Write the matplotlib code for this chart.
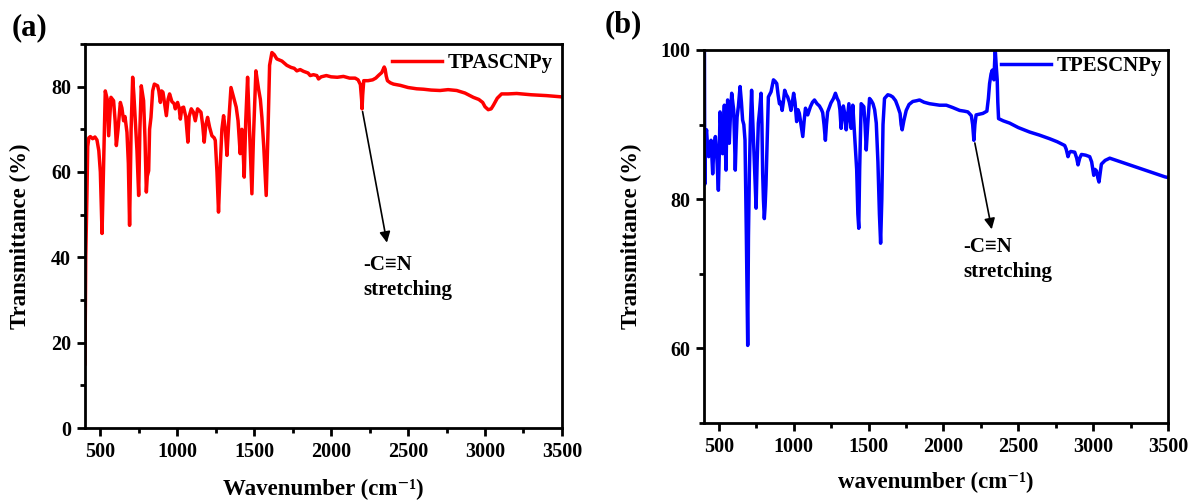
import matplotlib
matplotlib.use("Agg")
import matplotlib.pyplot as plt
from matplotlib.ticker import MultipleLocator

# ------------------------------------------------------------
# FTIR spectra
# ------------------------------------------------------------
wn_a = [400, 405, 413, 418, 425, 435, 450, 465, 478, 490, 500, 511, 520, 532, 545, 554, 569, 586, 596, 604,
        615, 630, 640, 651, 660, 673, 682, 690, 700, 710, 718, 727, 738, 749, 757, 766, 781, 790, 799, 805,
        814, 820, 829, 840, 851, 872, 880, 890, 898, 907, 918, 929, 940, 950, 965, 980, 987, 1002, 1012, 1020,
        1030, 1041, 1055, 1062, 1069, 1077, 1091, 1105, 1117, 1132, 1154, 1165, 1175, 1185, 1197, 1210, 1225,
        1240, 1247, 1258, 1268, 1280, 1290, 1301, 1312, 1323, 1335, 1349, 1366, 1383, 1395, 1409, 1420, 1428,
        1435, 1445, 1457, 1468, 1478, 1485, 1495, 1511, 1528, 1540, 1550, 1562, 1578, 1590, 1600, 1615, 1630,
        1647, 1680, 1712, 1740, 1760, 1777, 1799, 1820, 1850, 1864, 1885, 1907, 1918, 1935, 1969, 2000, 2040,
        2080, 2120, 2156, 2175, 2190, 2198, 2201, 2205, 2212, 2240, 2270, 2290, 2310, 2329, 2345, 2351, 2358,
        2366, 2385, 2405, 2450, 2500, 2556, 2600, 2650, 2708, 2760, 2816, 2870, 2924, 2960, 2985, 3000, 3021,
        3040, 3054, 3080, 3108, 3150, 3206, 3300, 3400, 3500]
T_a = [15, 40, 55, 66, 68, 68.3, 67.8, 68.2, 67.5, 65, 60, 45.6, 60, 79, 77, 68.5, 77.5, 76.7, 72, 66.2,
       70, 76.3, 75, 72, 73, 69.3, 62, 47.5, 70, 82.2, 78, 72, 65, 54.5, 70, 80.2, 76.7, 68, 55.3, 59,
       60.3, 70, 72.8, 79, 80.6, 80.2, 79, 76.3, 79, 78.7, 76, 73.2, 77, 78.3, 76.5, 76, 74.8, 76.3, 75, 72.4,
       75, 75.2, 73, 70, 67, 73, 74.8, 74, 72, 74.8, 74, 71, 67, 71, 72.8, 70.5, 68.5,
       68, 67.4, 60, 50.6, 62, 70, 73.2, 70, 63.9, 72, 79.8, 77.5, 75.2, 72, 64.3, 70, 65,
       58.8, 72, 82.2, 71.3, 62, 54.9, 68, 83.7, 79.5, 77, 72.8, 66, 54.5, 70, 85, 88, 87.5,
       86.5, 86, 85, 84.5, 84.3, 83.7, 84, 83.6, 83.2, 82.6, 82.8, 82.6, 81.8, 82.3, 82.6, 82.3, 82.2,
       82.4, 82.0, 82.0, 81.6, 80.5, 77, 74.8, 78, 81.4, 81.4, 81.6, 82, 82.7, 83.3, 84.6, 84.1, 82.5,
       81.4, 80.9, 80.6, 80.3, 79.8, 79.5, 79.4, 79.2, 79.1, 79.3, 79.1, 78.5, 77.5, 77, 76.3, 75.3, 74.6,
       74.8, 75.6, 77.3, 78.3, 78.3, 78.4, 78.1, 77.9, 77.6]

wn_b = [400, 403, 405, 410, 417, 424, 431, 440, 447, 452, 458, 466, 476, 485, 496, 502, 507, 515, 524, 530,
        536, 541, 547, 552, 558, 563, 569, 576, 585, 592, 598, 604, 609, 615, 621, 630, 641, 650, 658, 666,
        674, 683, 692, 697, 703, 710, 718, 725, 731, 740, 748, 755, 763, 772, 781, 787, 792, 797, 803, 808,
        814, 822, 830, 848, 864, 875, 886, 895, 904, 913, 922, 930, 939, 950, 959, 970, 981, 990, 999, 1008,
        1019, 1028, 1037, 1048, 1060, 1069, 1078, 1093, 1111, 1125, 1138, 1155, 1171, 1185, 1193, 1202, 1211,
        1218, 1226, 1248, 1265, 1278, 1290, 1300, 1308, 1316, 1323, 1331, 1340, 1350, 1359, 1368, 1376, 1383,
        1389, 1394, 1402, 1410, 1420, 1428, 1434, 1440, 1450, 1468, 1476, 1484, 1494, 1506, 1518, 1529, 1540,
        1551, 1562, 1572, 1580, 1588, 1596, 1606, 1628, 1645, 1661, 1680, 1695, 1710, 1717, 1724, 1735, 1751,
        1770, 1795, 1820, 1840, 1870, 1907, 1940, 1974, 2019, 2060, 2108, 2140, 2163, 2186, 2195, 2203, 2210,
        2218, 2240, 2263, 2290, 2300, 2308, 2318, 2326, 2332, 2337, 2342, 2346, 2352, 2359, 2363, 2368, 2400,
        2442, 2500, 2576, 2640, 2710, 2760, 2810, 2820, 2832, 2840, 2850, 2877, 2890, 2899, 2910, 2922, 2950,
        2977, 2990, 3004, 3012, 3022, 3032, 3039, 3047, 3055, 3080, 3111, 3170, 3245, 3360, 3479, 3500]
T_b = [100, 100, 82, 88, 89.3, 87, 85.7, 87, 87.9, 86, 83.4, 87, 88.4, 86, 81.2, 86, 91.7, 89, 86.1, 90,
       92.6, 88, 83.9, 90, 93.3, 91, 87.5, 91, 94.2, 93, 92, 88, 83.9, 88, 91, 92.5, 95.1, 93, 90.6, 90,
       87.9, 75, 60.4, 75, 83.4, 90, 94.6, 91, 87.9, 83, 78.8, 85, 90.2, 92, 94.2, 90, 83.4, 80, 77.4, 79,
       81.9, 88, 93.7, 94.4, 96, 95.8, 95.5, 94, 92.8, 93, 91.9, 93, 94.6, 94, 93.7, 93, 91.9, 93, 94.2, 93,
       90.4, 92, 91.5, 90, 88.4, 90.5, 92.2, 91.3, 92.4, 93, 93.3, 92.8, 92.5, 92, 91.6, 90, 87.9,
       90, 91.7, 92.9, 93.5, 94.2, 93.5, 93.1, 92, 89.5, 91, 92.5, 91.5, 89.3, 91, 92.8, 91, 89.5,
       91, 92.6, 90, 87.5, 84, 78, 76.1, 84, 92.8, 92.4, 90, 86.6, 90, 93.5, 93.2, 92.8, 92,
       90.2, 85, 78, 74.1, 80, 90, 93.5, 94, 93.9, 93.7, 93.2, 92.4, 91.5, 90, 89.3, 90.5, 91.9,
       92.7, 93.1, 93.2, 93.3, 93, 92.8, 92.7, 92.6, 92.6, 92.3, 91.9, 91.8, 91.7, 91.2, 90, 87.9, 90,
       91.3, 91.4, 91.5, 91.8, 93.5, 95.5, 96.8, 97.3, 96.5, 96, 98.5, 100, 98, 96, 93, 90.8, 90.5,
       90.2, 89.6, 89, 88.6, 88.1, 87.7, 87.2, 86.7, 85.7, 86.2, 86.4, 86.3, 85.5, 84.6, 85.5, 86, 85.9,
       85.7, 85, 83.2, 84, 83.8, 82.8, 82.3, 83.5, 84.7, 85.2, 85.5, 85.1, 84.6, 83.8, 83, 82.9]

# annotation anchors (dip, arrow head, label) in data units
cn_a = dict(dip=(2201, 74.8), head=(2366, 42.8), text=(2208, 40.6))
cn_b = dict(dip=(2206, 87.9), head=(2326, 75.6), text=(2134, 74.9))

SERIF = ["Liberation Serif", "DejaVu Serif"]
plt.rcParams["font.family"] = SERIF
plt.rcParams["font.weight"] = "bold"


def style_axes(ax):
    for sp in ax.spines.values():
        sp.set_linewidth(2.0)
    ax.xaxis.set_major_locator(MultipleLocator(500))
    ax.xaxis.set_minor_locator(MultipleLocator(250))
    ax.yaxis.set_major_locator(MultipleLocator(20))
    ax.yaxis.set_minor_locator(MultipleLocator(10))
    ax.tick_params(which="major", direction="out", length=6, width=2, labelsize=14.5, pad=4)
    ax.tick_params(which="minor", direction="out", length=3.5, width=2)
    for lab in ax.get_xticklabels() + ax.get_yticklabels():
        lab.set_fontweight("bold")


def annotate_cn(ax, pos):
    ax.annotate("", xy=pos["head"], xytext=pos["dip"],
                arrowprops=dict(arrowstyle="-|>", color="black", lw=1.2, mutation_scale=16))
    tx, ty = pos["text"]
    ax.text(tx, ty, "-C≡N\nstretching", fontsize=15, fontweight="bold", va="top",
            ha="left", linespacing=1.35, family=SERIF)


fig = plt.figure(figsize=(11.9, 5.01), dpi=100)

# ---------------- panel (a) ----------------
ax1 = fig.add_axes([0.0714, 0.1457, 0.4008, 0.7665])
ax1.plot(wn_a, T_a, color="#ff0000", lw=2.5, label="TPASCNPy")
ax1.set_xlim(400, 3500)
ax1.set_ylim(0, 90)
style_axes(ax1)
ax1.set_xlabel("Wavenumber (cm⁻¹)", fontsize=16.5, fontweight="bold", labelpad=12)
ax1.set_ylabel("Transmittance (%)", fontsize=16.5, fontweight="bold", labelpad=14)
ax1.legend(loc="upper right", frameon=False, fontsize=15, handlelength=2.4,
           handletextpad=0.25, borderaxespad=0.15, borderpad=0.3)
annotate_cn(ax1, cn_a)
fig.text(0.010, 0.945, "(a)", fontsize=22, fontweight="bold", va="center")

# ---------------- panel (b) ----------------
ax2 = fig.add_axes([0.5916, 0.1557, 0.3899, 0.7445])
ax2.plot(wn_b, T_b, color="#0000ff", lw=2.5, label="TPESCNPy")
ax2.set_xlim(400, 3500)
ax2.set_ylim(50, 100)
style_axes(ax2)
ax2.set_xlabel("wavenumber (cm⁻¹)", fontsize=16.5, fontweight="bold", labelpad=11)
ax2.set_ylabel("Transmittance (%)", fontsize=16.5, fontweight="bold", labelpad=13)
ax2.legend(loc="upper right", frameon=False, fontsize=15, handlelength=2.4,
           handletextpad=0.25, borderaxespad=0.15, borderpad=0.15)
annotate_cn(ax2, cn_b)
fig.text(0.508, 0.950, "(b)", fontsize=22, fontweight="bold", va="center")

fig.savefig("out.png", dpi=100)
